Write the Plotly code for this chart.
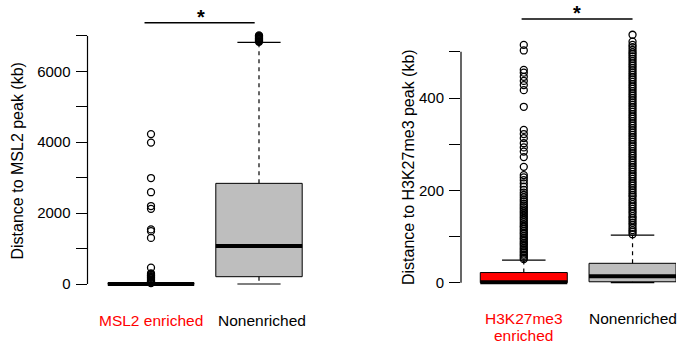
import plotly.graph_objects as go

# ---------------- data ----------------
msl2_categories = ["MSL2 enriched", "Nonenriched"]
msl2_q1 = [0, 206]
msl2_median = [0, 1070]
msl2_q3 = [8, 2840]
msl2_lower = [0, 0]
msl2_upper = [12, 6820]
msl2_enriched_outliers = [4230, 3990, 2990, 2590, 2200, 2120, 1540, 1490, 1300, 460,
                          300, 275, 250, 225, 200, 175, 150, 125, 100, 80, 60, 40, 25]
msl2_nonenriched_outliers = [6835, 6855, 6875, 6895, 6915, 6935, 6955, 6975, 6995, 7015]

h3_categories = ["H3K27me3 enriched", "Nonenriched"]
h3_q1 = [0, 2]
h3_median = [1, 14]
h3_q3 = [22, 42]
h3_lower = [0, 0]
h3_upper = [49, 103]
h3_enriched_outliers = [51, 54, 58, 61, 65, 68, 72, 75, 79, 83, 86, 90, 94, 97, 101, 105,
                        108, 112, 116, 120, 123, 127, 131, 135, 139, 143, 147, 151, 155,
                        159, 163, 167, 171, 176, 180, 185, 190, 195, 201,
                        208, 215, 222, 228, 233, 251, 272, 284, 293, 302, 313, 322, 331,
                        381, 417, 428, 437, 446, 455, 461, 503, 515]
h3_nonenriched_outliers = [105, 110, 114, 119, 125, 130, 135, 140, 144, 150, 155, 160, 165,
                           170, 175, 180, 186, 190, 195, 200, 205, 210, 215, 220, 225, 230,
                           235, 240, 245, 250, 255, 260, 265, 270, 275, 280, 285, 290, 295,
                           300, 305, 310, 315, 320, 325, 330, 335, 340, 345, 350, 355, 360,
                           365, 370, 375, 380, 385, 390, 395, 400, 405, 410, 415, 420, 425,
                           430, 435, 440, 445, 450, 455, 460, 465, 470, 475, 480, 485, 490,
                           495, 499, 504, 510, 515, 522, 537]

msl2_ticks = [0, 1000, 2000, 3000, 4000, 5000, 6000, 7000]
msl2_ticktext = ["0", "", "2000", "", "4000", "", "6000", ""]
h3_ticks = [0, 100, 200, 300, 400, 500]
h3_ticktext = ["0", "", "200", "", "400", ""]

fills_msl2 = ["#BEBEBE", "#BEBEBE"]
fills_h3 = ["#FF0000", "#BEBEBE"]
label_colors = ["#FF0000", "#000000"]

W, H = 677, 345
FONT = "Liberation Sans, Arial, Helvetica, sans-serif"

fig = go.Figure()
shapes = []
annotations = []


def px_y(p):
    return 1 - p / H


def add_boxes(xr, yr, q1, med, q3, lo, hi, fills):
    for i in range(len(q1)):
        c = i + 1
        shapes.append(dict(type="rect", xref=xr, yref=yr, x0=c - 0.4, x1=c + 0.4,
                           y0=q1[i], y1=q3[i], fillcolor=fills[i],
                           line=dict(color="black", width=1), layer="below"))
        shapes.append(dict(type="line", xref=xr, yref=yr, x0=c - 0.4, x1=c + 0.4,
                           y0=med[i], y1=med[i], line=dict(color="black", width=4),
                           layer="below"))
        for a, b in ((q3[i], hi[i]), (q1[i], lo[i])):
            if abs(b - a) > 0:
                shapes.append(dict(type="line", xref=xr, yref=yr, x0=c, x1=c, y0=a, y1=b,
                                   line=dict(color="black", width=1.2, dash="4px,4px"),
                                   layer="below"))
        for v in (hi[i], lo[i]):
            shapes.append(dict(type="line", xref=xr, yref=yr, x0=c - 0.2, x1=c + 0.2,
                               y0=v, y1=v, line=dict(color="black", width=1.2),
                               layer="below"))


marker = dict(symbol="circle-open", size=7, color="black", line=dict(width=1.3))

# left panel
add_boxes("x", "y", msl2_q1, msl2_median, msl2_q3, msl2_lower, msl2_upper, fills_msl2)
for i, outl in enumerate([msl2_enriched_outliers, msl2_nonenriched_outliers]):
    fig.add_trace(go.Scatter(x=[i + 1] * len(outl), y=outl, mode="markers",
                             marker=marker, xaxis="x", yaxis="y", showlegend=False))
# right panel
add_boxes("x2", "y2", h3_q1, h3_median, h3_q3, h3_lower, h3_upper, fills_h3)
for i, outl in enumerate([h3_enriched_outliers, h3_nonenriched_outliers]):
    fig.add_trace(go.Scatter(x=[i + 1] * len(outl), y=outl, mode="markers",
                             marker=marker, xaxis="x2", yaxis="y2", showlegend=False))

# axis lines (span only the tick range, like R)
shapes.append(dict(type="line", xref="x domain", yref="y", x0=0, x1=0,
                   y0=msl2_ticks[0], y1=msl2_ticks[-1], line=dict(color="black", width=1.2)))
shapes.append(dict(type="line", xref="x2 domain", yref="y2", x0=0, x1=0,
                   y0=h3_ticks[0], y1=h3_ticks[-1], line=dict(color="black", width=1.2)))

# significance brackets
shapes.append(dict(type="line", xref="x", yref="y", x0=0.94, x1=1.96, y0=7373, y1=7373,
                   line=dict(color="black", width=1.5)))
shapes.append(dict(type="line", xref="x2", yref="y2", x0=0.98, x1=2.0, y0=571, y1=571,
                   line=dict(color="black", width=1.5)))
annotations.append(dict(text="<b>*</b>", xref="x", yref="y", x=1.46, y=7373, yanchor="bottom",
                        showarrow=False, font=dict(size=20, family=FONT, color="black"),
                        yshift=-7))
annotations.append(dict(text="<b>*</b>", xref="x2", yref="y2", x=1.49, y=571, yanchor="bottom",
                        showarrow=False, font=dict(size=20, family=FONT, color="black"),
                        yshift=-7))

# category labels
for i, lab in enumerate(msl2_categories):
    annotations.append(dict(text=lab, xref="x", yref="paper", x=i + 1 + (0.03 if i else 0),
                            y=px_y(320), yanchor="middle", showarrow=False,
                            font=dict(size=15.5, family=FONT, color=label_colors[i])))
h3_lines = [["H3K27me3", "enriched"], ["Nonenriched"]]
for i, lines in enumerate(h3_lines):
    for j, t in enumerate(lines):
        annotations.append(dict(text=t, xref="x2", yref="paper", x=i + 1,
                                y=px_y(318 + 17.5 * j), yanchor="middle", showarrow=False,
                                font=dict(size=15.5, family=FONT, color=label_colors[i])))

# y titles
annotations.append(dict(text="Distance to MSL2 peak (kb)", xref="paper", yref="paper",
                        x=16.5 / W, y=px_y(161), textangle=-90, showarrow=False,
                        xanchor="center", yanchor="middle",
                        font=dict(size=16, family=FONT, color="black")))
annotations.append(dict(text="Distance to H3K27me3 peak (kb)", xref="paper", yref="paper",
                        x=408 / W, y=px_y(167), textangle=-90, showarrow=False,
                        xanchor="center", yanchor="middle",
                        font=dict(size=16, family=FONT, color="black")))

yax_common = dict(showgrid=False, zeroline=False, showline=False, ticks="outside",
                  ticklen=11, tickwidth=1.2, tickcolor="black", ticklabelstandoff=2,
                  tickfont=dict(size=15, family=FONT, color="black"), fixedrange=True)

fig.update_layout(
    width=W, height=H, margin=dict(l=0, r=0, t=0, b=0),
    paper_bgcolor="white", plot_bgcolor="white", showlegend=False,
    xaxis=dict(domain=[87.5 / W, 313 / W], range=[1 - 63.5 / 108, 1 + 162 / 108],
               visible=False, anchor="y"),
    yaxis=dict(domain=[px_y(300), px_y(10)], range=[-16 / 0.03544, 274 / 0.03544],
               tickvals=msl2_ticks, ticktext=msl2_ticktext, anchor="x", **yax_common),
    xaxis2=dict(domain=[461 / W, 676 / W], range=[1 - 62.7 / 108.6, 1 + 152 / 108.6],
                visible=False, anchor="y2"),
    yaxis2=dict(domain=[px_y(300), px_y(10)], range=[-17.3 / 0.4617, 272.7 / 0.4617],
                tickvals=h3_ticks, ticktext=h3_ticktext, anchor="x2", **yax_common),
    shapes=shapes, annotations=annotations,
)

fig.write_html("out.html")
